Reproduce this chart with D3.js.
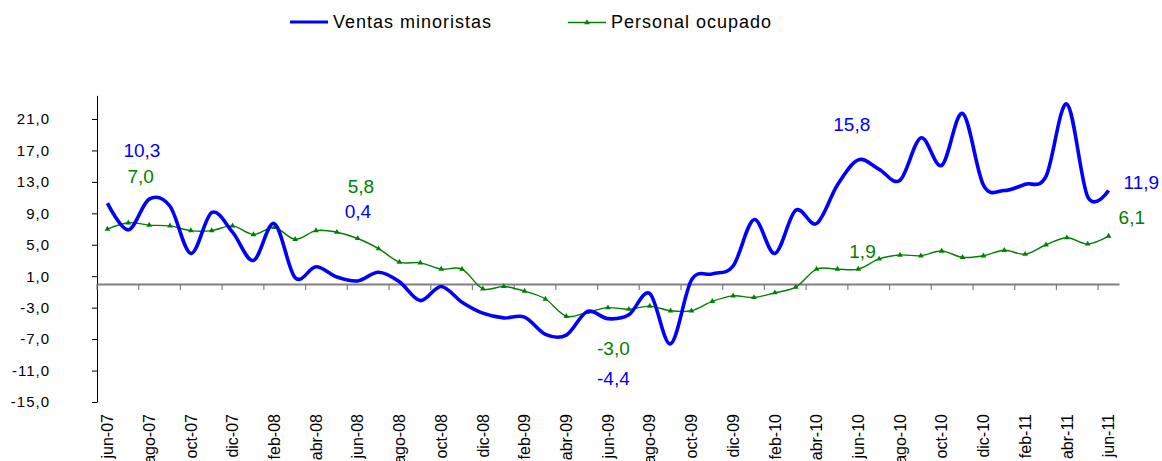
<!DOCTYPE html>
<html>
<head>
<meta charset="utf-8">
<script src="https://cdn.jsdelivr.net/npm/d3@7"></script>
<style>
  html, body { margin: 0; padding: 0; background: #fff; }
  svg { display: block; font-family: "Liberation Sans", Arial, sans-serif; }
</style>
</head>
<body>
<svg id="chart" width="1162" height="461"></svg>
<script>
// ---------- data ----------
const months = [
  "jun-07","jul-07","ago-07","sep-07","oct-07","nov-07","dic-07",
  "ene-08","feb-08","mar-08","abr-08","may-08","jun-08","jul-08","ago-08","sep-08","oct-08","nov-08","dic-08",
  "ene-09","feb-09","mar-09","abr-09","may-09","jun-09","jul-09","ago-09","sep-09","oct-09","nov-09","dic-09",
  "ene-10","feb-10","mar-10","abr-10","may-10","jun-10","jul-10","ago-10","sep-10","oct-10","nov-10","dic-10",
  "ene-11","feb-11","mar-11","abr-11","may-11","jun-11"
];
const ventas = [
  10.3, 6.9, 10.8, 9.9, 3.9, 9.1, 6.6,
  3.0, 7.7, 0.8, 2.2, 0.9, 0.4, 1.5, 0.3, -2.1, -0.3, -2.3, -3.7,
  -4.3, -4.2, -6.4, -6.5, -3.5, -4.4, -3.9, -1.2, -7.6, 0.5, 1.3, 2.3,
  8.2, 3.9, 9.4, 7.7, 12.6, 15.8, 14.6, 13.2, 18.6, 15.1, 21.7, 12.6,
  11.9, 12.7, 13.7, 22.9, 11.1, 11.9
];
const personal = [
  7.0, 7.8, 7.5, 7.4, 6.8, 6.8, 7.4,
  6.3, 7.2, 5.7, 6.8, 6.6, 5.8, 4.5, 2.8, 2.7, 1.9, 1.9, -0.6,
  -0.3, -0.9, -1.9, -4.1, -3.6, -3.0, -3.2, -2.8, -3.4, -3.4, -2.2, -1.5,
  -1.7, -1.1, -0.4, 1.9, 1.9, 1.9, 3.2, 3.7, 3.6, 4.2, 3.4, 3.6,
  4.3, 3.8, 5.0, 5.9, 5.1, 6.1
];
const yTicks = [-15, -11, -7, -3, 1, 5, 9, 13, 17, 21];
const seriesNames = ["Ventas minoristas", "Personal ocupado"];
// annotated months (index into months) per series
const ventasLabelIdx = [0, 12, 24, 36, 48];
const personalLabelIdx = [0, 12, 24, 36, 48];

// ---------- layout ----------
const BLUE = "#0000ff", GREEN = "#008000";
const svg = d3.select("#chart");
const plotL = 97, plotR = 1119, plotT = 95.4, plotB = 402;

const locale = d3.formatLocale({decimal: ",", thousands: ".", grouping: [3], currency: ["", "€"], minus: "-"});
const fmt = locale.format(".1f");

const x = d3.scaleBand().domain(months).range([plotL, plotR]).padding(0);
const cx = m => x(m) + x.bandwidth() / 2;
const y = d3.scaleLinear().domain([-15, 24]).range([plotB, plotT]);

// y axis
const yAxis = d3.axisLeft(y).tickValues(yTicks).tickSize(5).tickSizeOuter(0).tickPadding(42).tickFormat(fmt);
const gy = svg.append("g").attr("transform", `translate(${plotL},0)`).call(yAxis);
gy.select(".domain").attr("stroke", "#000").attr("stroke-width", 1);
gy.selectAll(".tick line").attr("stroke", "#000");
gy.selectAll("text").attr("font-size", 15).attr("letter-spacing", 1).attr("fill", "#000")
  .attr("font-family", "Liberation Sans, Arial, sans-serif");

// x axis at zero
const tickMonths = months.filter((m, i) => i % 2 === 0);
const xAxis = d3.axisBottom(x).tickValues(tickMonths).tickSize(6).tickSizeOuter(0).tickFormat("");
const gx = svg.append("g").attr("transform", `translate(0,${y(0)})`).call(xAxis);
gx.select(".domain").attr("stroke", "#808080").attr("stroke-width", 2);
gx.selectAll(".tick").attr("transform", d => `translate(${x(d)},0)`);
gx.selectAll(".tick line").attr("stroke", "#808080").attr("stroke-width", 1.2);

// x labels (rotated)
svg.append("g").selectAll("text").data(tickMonths).join("text")
  .attr("transform", d => `translate(${cx(d)},414) rotate(-90)`)
  .attr("text-anchor", "end").attr("dy", "0.36em")
  .attr("font-size", 16).attr("fill", "#000")
  .text(d => d);

// lines
const curve = d3.curveCardinal.tension(0);
const line = d3.line().x((d, i) => cx(months[i])).y(d => y(d)).curve(curve);

svg.append("path").datum(personal).attr("d", line)
  .attr("fill", "none").attr("stroke", GREEN).attr("stroke-width", 1.4);
svg.append("g").selectAll("path").data(personal).join("path")
  .attr("d", d3.symbol(d3.symbolTriangle, 14))
  .attr("transform", (d, i) => `translate(${cx(months[i])},${y(d)})`)
  .attr("fill", GREEN);

svg.append("path").datum(ventas).attr("d", line)
  .attr("fill", "none").attr("stroke", BLUE).attr("stroke-width", 3.6)
  .attr("stroke-linejoin", "round");

// annotations
const annBlue = [
  {dx: 16, y: 157}, {dx: -13, y: 218}, {dx: -11, y: 385}, {dx: -25, y: 131}, {dx: 15, y: 189}
];
const annGreen = [
  {dx: 20, y: 183}, {dx: -10, y: 193}, {dx: -11, y: 355}, {dx: -9, y: 258}, {dx: 10, y: 224}
];
svg.append("g").selectAll("text").data(ventasLabelIdx).join("text")
  .attr("x", (d, k) => cx(months[d]) + annBlue[k].dx).attr("y", (d, k) => annBlue[k].y)
  .attr("font-size", 19).attr("fill", BLUE).text(d => fmt(ventas[d]));
svg.append("g").selectAll("text").data(personalLabelIdx).join("text")
  .attr("x", (d, k) => cx(months[d]) + annGreen[k].dx).attr("y", (d, k) => annGreen[k].y)
  .attr("font-size", 19).attr("fill", GREEN).text(d => fmt(personal[d]));

// legend
const lg = svg.append("g");
lg.append("line").attr("x1", 290).attr("x2", 328).attr("y1", 22).attr("y2", 22)
  .attr("stroke", BLUE).attr("stroke-width", 3);
lg.append("text").attr("x", 333).attr("y", 27.5).attr("font-size", 18).attr("letter-spacing", 1)
  .attr("fill", "#000").text(seriesNames[0]);
lg.append("line").attr("x1", 568).attr("x2", 606).attr("y1", 22.5).attr("y2", 22.5)
  .attr("stroke", GREEN).attr("stroke-width", 1.5);
lg.append("path").attr("d", d3.symbol(d3.symbolTriangle, 14)).attr("transform", "translate(587,22.5)")
  .attr("fill", GREEN);
lg.append("text").attr("x", 611).attr("y", 27.5).attr("font-size", 18).attr("letter-spacing", 1)
  .attr("fill", "#000").text(seriesNames[1]);
</script>
</body>
</html>
